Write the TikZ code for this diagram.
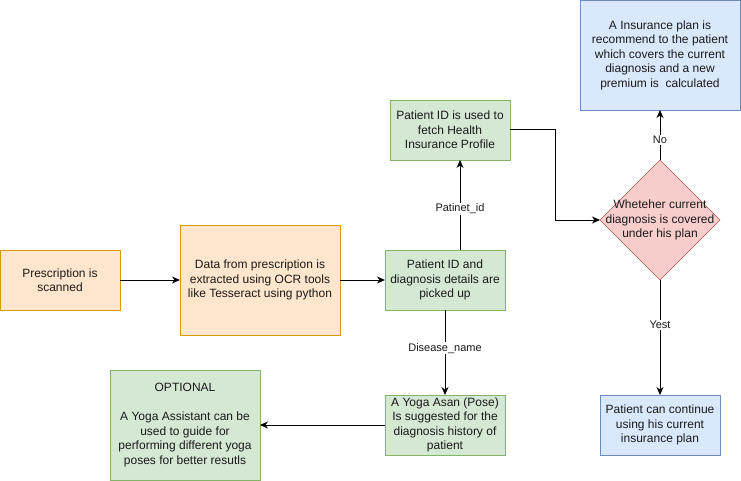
\documentclass[tikz,border=0pt]{standalone}
\usepackage{fontspec}
\setmainfont{Liberation Sans}
\usepackage{xcolor}
\usetikzlibrary{arrows.meta,positioning,shapes.geometric}
\definecolor{orfill}{HTML}{FFE6CC}\definecolor{ordraw}{HTML}{D79B00}
\definecolor{grfill}{HTML}{D5E8D4}\definecolor{grdraw}{HTML}{82B366}
\definecolor{rdfill}{HTML}{F8CECC}\definecolor{rddraw}{HTML}{B85450}
\definecolor{blfill}{HTML}{DAE8FC}\definecolor{bldraw}{HTML}{6C8EBF}
\definecolor{txt}{HTML}{1A1A1A}

\begin{document}
\begin{tikzpicture}[x=1pt,y=-1pt,node distance=45pt,font=\fontsize{12}{14.5}\selectfont,text=txt]
\tikzset{
  orbox/.style={draw=ordraw,fill=orfill,align=center,minimum width=120pt,minimum height=60pt,inner sep=0pt,outer sep=0pt},
  grbox/.style={draw=grdraw,fill=grfill,align=center,minimum width=120pt,minimum height=60pt,inner sep=0pt,outer sep=0pt},
  blbox/.style={draw=bldraw,fill=blfill,align=center,minimum width=120pt,minimum height=60pt,inner sep=0pt,outer sep=0pt},
  decide/.style={diamond,aspect=1,draw=rddraw,fill=rdfill,minimum width=120pt,minimum height=120pt,inner sep=0pt,outer sep=0pt},
  lbl/.style={fill=white,inner sep=1pt,font=\fontsize{11}{13}\selectfont},
  arr/.style={-{Stealth[length=8pt,width=7pt,inset=2.5pt]},line width=1pt,draw=black}
}
\useasboundingbox (0,0) rectangle (741,481);
\node(presc)[orbox] at (60,280) {Prescription is\\scanned};
\node(ocr)[orbox,right=60pt of presc,minimum width=160pt,minimum height=110pt]{Data from prescription is\\extracted using OCR tools\\like Tesseract using python};
\node(pid)[grbox,right=45pt of ocr]{Patient ID and\\diagnosis details are\\picked up};
\node(fetch)[grbox,above=90pt of pid,xshift=5pt]{Patient ID is used to\\fetch Health\\Insurance Profile};
\node(dec)[decide] at (660,220) {};
\node(dectxt)[align=center] at (dec.center) {Wheteher current\\diagnosis is covered\\under his plan};
\node(plan)[blbox,above=50pt of dec,minimum width=160pt,minimum height=110pt]{A Insurance plan is\\recommend to the patient\\which covers the current\\diagnosis and a new\\premium is \ calculated};
\node(cont)[blbox,below=115pt of dec]{Patient can continue\\using his current\\insurance plan};
\node(yoga)[grbox,below=85pt of pid]{A Yoga Asan (Pose)\\Is suggested for the\\diagnosis history of\\patient};
\node(opt)[grbox,left=125pt of yoga,minimum width=150pt,minimum height=110pt]{OPTIONAL\\\mbox{}\\A Yoga Assistant can be\\used to guide for\\performing different yoga\\poses for better resutls};
\draw[arr](presc)--(ocr); \draw[arr](ocr)--(pid);
\draw[arr]([xshift=15pt]pid.north)--node[lbl,pos=0.46]{Patinet\_id}([xshift=15pt]pid.north |- fetch.south);
\draw[arr](fetch.east)--++(45,0)|-(dec.west);
\draw[arr](dec.north)--node[lbl,pos=0.4]{No}(plan.south);
\draw[arr](dec.south)--node[lbl,pos=0.39]{Yest}(cont.north);
\draw[arr](pid.south)--node[lbl,pos=0.45]{Disease\_name}(yoga.north);
\draw[arr](yoga.west)--(opt.east);
\end{tikzpicture}
\end{document}
